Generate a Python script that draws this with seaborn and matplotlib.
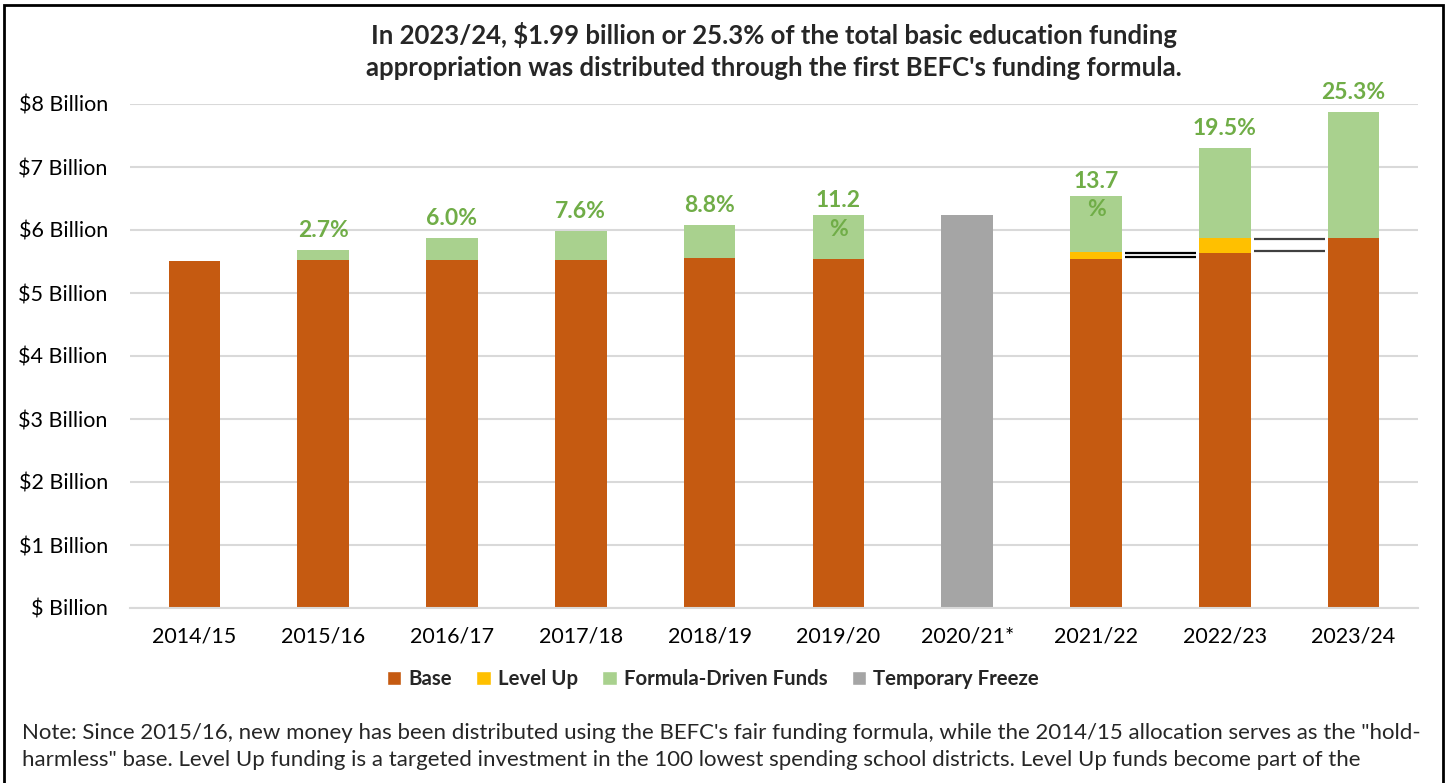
import matplotlib
matplotlib.use("Agg")
import matplotlib.pyplot as plt
import seaborn as sns
import pandas as pd
import numpy as np
from matplotlib.patches import Patch, Rectangle

years = ['2014/15', '2015/16', '2016/17', '2017/18', '2018/19', '2019/20',
         '2020/21*', '2021/22', '2022/23', '2023/24']
base = [5.51, 5.53, 5.53, 5.53, 5.55, 5.54, 0.0, 5.54, 5.64, 5.88]
level_up = [0, 0, 0, 0, 0, 0, 0, 0.11, 0.23, 0]
formula = [0, 0.15, 0.34, 0.45, 0.53, 0.70, 0, 0.895, 1.43, 1.99]
freeze = [0, 0, 0, 0, 0, 0, 6.24, 0, 0, 0]
pct_labels = ['', '2.7%', '6.0%', '7.6%', '8.8%', '11.2\n%', '', '13.7\n%', '19.5%', '25.3%']
y_ticks = [0, 1, 2, 3, 4, 5, 6, 7, 8]
y_tick_labels = ['$ Billion', '$1 Billion', '$2 Billion', '$3 Billion', '$4 Billion',
                 '$5 Billion', '$6 Billion', '$7 Billion', '$8 Billion']

C_BASE = '#C55A11'
C_LEVEL = '#FFC000'
C_FORM = '#A9D18E'
C_FREEZE = '#A5A5A5'
C_LABEL = '#70AD47'

sns.set_style('white')
plt.rcParams['font.family'] = ['Lato', 'DejaVu Sans']

df = pd.DataFrame({'year': years, 'base': base, 'level': level_up,
                   'formula': formula, 'freeze': freeze})
df['base_level'] = df['base'] + df['level']
df['total'] = df['base_level'] + df['formula']

fig = plt.figure(figsize=(14.5, 7.83), dpi=100)
ax = fig.add_axes([130 / 1450, 1 - 608 / 783, (1418 - 130) / 1450, (608 - 104) / 783])

W = 0.4
for col, c in [('freeze', C_FREEZE), ('total', C_FORM), ('base_level', C_LEVEL), ('base', C_BASE)]:
    sns.barplot(data=df, x='year', y=col, color=c, width=W, ax=ax,
                saturation=1, errorbar=None, linewidth=0)

ax.set_xlim(-0.5, len(years) - 0.5)
ax.set_ylim(0, 8)
ax.set_yticks(y_ticks)
ax.set_yticklabels(y_tick_labels)
ax.set_xlabel('')
ax.set_ylabel('')
ax.grid(axis='y', color='#D9D9D9', linewidth=1.5)
ax.set_axisbelow(True)
for s in ['top', 'right', 'left']:
    ax.spines[s].set_visible(False)
ax.spines['bottom'].set_color('#D9D9D9')
ax.spines['bottom'].set_linewidth(1.5)
ax.tick_params(axis='y', length=0, pad=16, labelsize=15.5, colors='#000000')
ax.tick_params(axis='x', length=0, pad=13, labelsize=15.5, colors='#000000')

# percentage labels
for i, lab in enumerate(pct_labels):
    if not lab:
        continue
    top = df['total'][i]
    off = 0 if '\n' in lab else 14
    ax.annotate(lab, (i, top), xytext=(0, off), textcoords='offset points',
                ha='center', va='center', fontsize=16.5, fontweight='bold',
                color=C_LABEL, linespacing=1.45, annotation_clip=False)

# connector lines (level up becomes part of base)
for i, col in [(7, '#000000'), (8, '#404040')]:
    x0 = i + W / 2 + 0.025
    x1 = i + 1 - W / 2 - 0.025
    for yv in [df['base_level'][i] - 0.01, df['base'][i] + 0.03]:
        ax.plot([x0, x1], [yv, yv], color=col, lw=1.6, solid_capstyle='butt')

# title
fig.text(774 / 1450, 1 - 35 / 783,
         "In 2023/24, $1.99 billion or 25.3% of the total basic education funding",
         ha='center', va='center', fontsize=18.5, fontweight='bold')
fig.text(774 / 1450, 1 - 68 / 783,
         "appropriation was distributed through the first BEFC's funding formula.",
         ha='center', va='center', fontsize=18.5, fontweight='bold')

# legend
handles = [Patch(facecolor=C_BASE, label='Base'),
           Patch(facecolor=C_LEVEL, label='Level Up'),
           Patch(facecolor=C_FORM, label='Formula-Driven Funds'),
           Patch(facecolor=C_FREEZE, label='Temporary Freeze')]
fig.legend(handles=handles, loc='center', bbox_to_anchor=(713 / 1450, 1 - 679 / 783),
           ncol=4, frameon=False, prop={'weight': 'bold', 'size': 14.7},
           handlelength=0.7, handleheight=0.7, handletextpad=0.35,
           columnspacing=1.2)

# note
fig.text(22 / 1450, 1 - 733 / 783,
         "Note: Since 2015/16, new money has been distributed using the BEFC's fair funding formula, "
         "while the 2014/15 allocation serves as the \"hold-",
         ha='left', va='center', fontsize=16)
fig.text(22 / 1450, 1 - 760 / 783,
         "harmless\" base. Level Up funding is a targeted investment in the 100 lowest spending "
         "school districts. Level Up funds become part of the",
         ha='left', va='center', fontsize=16)

# border
fig.patches.append(Rectangle((4 / 1450, -0.05), (1443 - 4) / 1450, 1.05 - 5 / 783,
                             transform=fig.transFigure, fill=False,
                             edgecolor='black', linewidth=2))

fig.savefig('out.png', dpi=100)
